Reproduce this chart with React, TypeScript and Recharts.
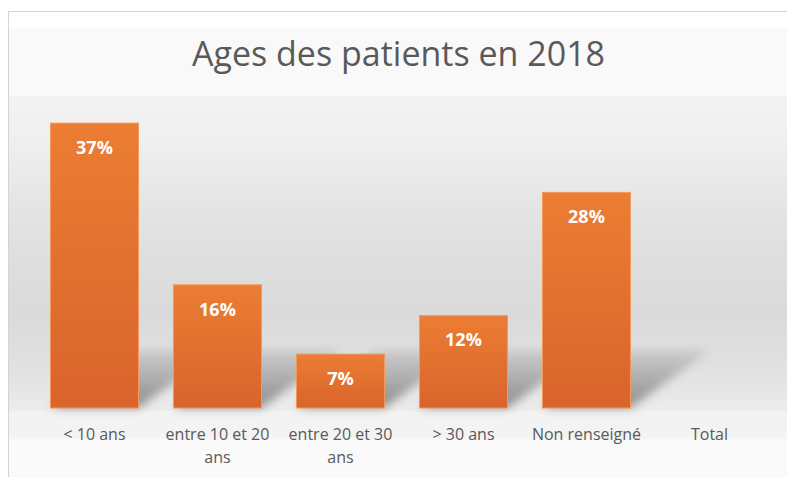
import React from "react";
import { BarChart, Bar, XAxis, YAxis, LabelList, Text } from "recharts";

const categories = [
  "< 10 ans",
  "entre 10 et 20 ans",
  "entre 20 et 30 ans",
  "> 30 ans",
  "Non renseigné",
  "Total",
];
const percents: (number | null)[] = [37, 16, 7, 12, 28, null];

const data = categories.map((name, i) => ({ name, pct: percents[i] }));

const FONT = "'Open Sans', sans-serif";

const AxisTick = (props: any) => {
  const { x, y, payload } = props;
  return (
    <Text
      x={x}
      y={y + 13}
      width={112}
      textAnchor="middle"
      verticalAnchor="start"
      fontSize={16}
      fill="#595959"
      fontFamily={FONT}
      lineHeight={23}
    >
      {payload.value}
    </Text>
  );
};

const ShadowBar = (props: any) => {
  const { x, y, width, height } = props;
  if (!height || height <= 0) return null;
  const base = y + height;
  const dx = 80;
  const dy = 58;
  const pts = `${x},${base} ${x + width},${base} ${x + width + dx},${base - dy} ${x + dx},${base - dy}`;
  return (
    <g>
      <polygon points={pts} fill="url(#shadowGrad)" filter="url(#blurShadow)" />
      <rect
        x={x}
        y={y}
        width={width}
        height={height}
        fill="url(#barGrad)"
        stroke="#f29a5c"
        strokeWidth={1}
      />
    </g>
  );
};

export default function App() {
  return (
    <div
      style={{
        position: "fixed",
        left: 8,
        top: 11,
        width: 779,
        height: 466,
        borderLeft: "1px solid #d4d4d4",
        borderTop: "1px solid #d4d4d4",
        background:
          "linear-gradient(to bottom, #ffffff 0px, #ffffff 16px, #f9f9f9 17px, #f9f9f9 84px, #f3f3f3 85px, #efefef 130px, #e7e7e7 180px, #e0e0e0 230px, #dadada 300px, #e0e0e0 350px, #e8e8e8 385px, #ececec 398px, #f2f2f2 400px, #f4f4f4 426px, #fafafa 428px, #fafafa 466px)",
        fontFamily: FONT,
      }}
    >
      <div
        style={{
          position: "absolute",
          left: 0,
          top: 19,
          width: 779,
          textAlign: "center",
          fontSize: 34,
          color: "#595959",
          lineHeight: "44px",
        }}
      >
        Ages des patients en 2018
      </div>
      <BarChart
        width={779}
        height={466}
        data={data}
        margin={{ top: 88, right: 17, bottom: 10, left: 24 }}
        barCategoryGap="14.2%"
        style={{ position: "absolute", left: 0, top: 0 }}
      >
        <defs>
          <linearGradient id="barGrad" x1="0" y1="0" x2="0" y2="1">
            <stop offset="0%" stopColor="#eb7d33" />
            <stop offset="100%" stopColor="#d9642c" />
          </linearGradient>
          <linearGradient id="shadowGrad" x1="0" y1="1" x2="0" y2="0">
            <stop offset="0%" stopColor="#000" stopOpacity={0.4} />
            <stop offset="100%" stopColor="#000" stopOpacity={0.08} />
          </linearGradient>
          <filter id="blurShadow" x="-20%" y="-40%" width="140%" height="180%">
            <feGaussianBlur stdDeviation="5" />
          </filter>
        </defs>
        <XAxis
          dataKey="name"
          axisLine={false}
          tickLine={false}
          height={60}
          interval={0}
          tick={<AxisTick />}
        />
        <YAxis hide domain={[0, 40]} />
        <Bar dataKey="pct" shape={<ShadowBar />} isAnimationActive={false}>
          <LabelList
            dataKey="pct"
            position="insideTop"
            offset={18}
            fill="#ffffff"
            fontSize={18}
            fontWeight="bold"
            fontFamily={FONT}
            formatter={(v: any) => (v == null ? "" : `${v}%`)}
          />
        </Bar>
      </BarChart>
    </div>
  );
}
